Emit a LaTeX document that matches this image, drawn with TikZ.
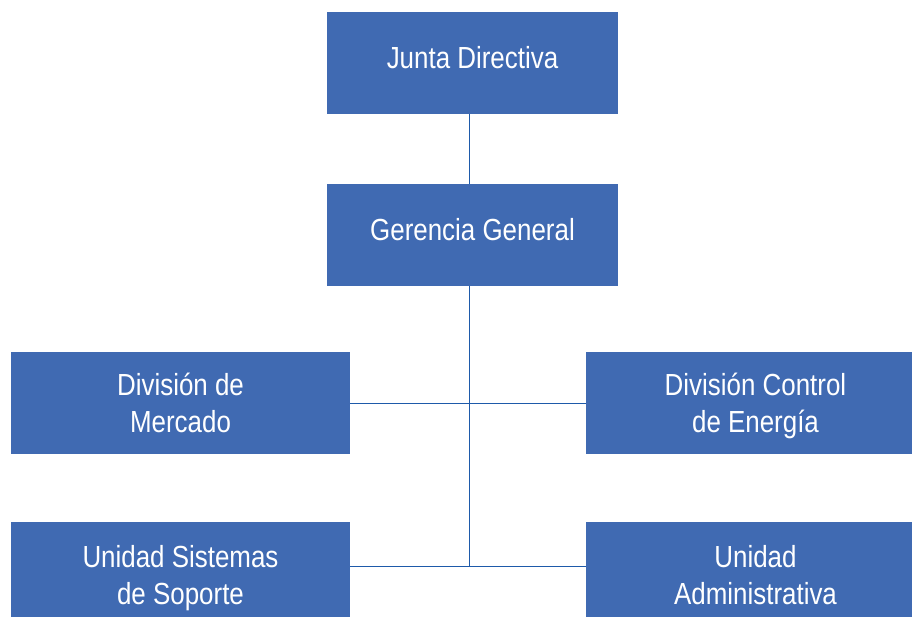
\documentclass[tikz,border=0pt]{standalone}
\usepackage{fontspec}
\setmainfont{Liberation Sans}[FakeStretch=0.85]
\usetikzlibrary{positioning}
\definecolor{boxblue}{RGB}{64,106,178}
\definecolor{lineblue}{RGB}{30,90,170}
\begin{document}
\begin{tikzpicture}[x=1pt, y=-1pt, line join=round,
  unit/.style={fill=boxblue, text=white, inner sep=0pt, align=center,
    minimum width=339pt, minimum height=102pt, text depth=-4pt,
    font=\fontsize{30.5}{37}\selectfont},
  topunit/.style={unit, minimum width=291pt, text height=22pt, text depth=12pt},
  lowunit/.style={unit, minimum height=112pt, text depth=6pt},
  link/.style={draw=lineblue, line width=1pt}]
\useasboundingbox (0,0) rectangle (912,616);
\clip (0,0) rectangle (912,616);
\def\xtrunk{469}
\node[topunit] (junta) at (472.5,63) {Junta Directiva};
\node[topunit] (gerencia) at (472.5,235) {Gerencia General};
\node[unit] (mercado) at (180.5,403) {División de\\Mercado};
\node[unit] (energia) at (755.5,403) {División Control\\de Energía};
\node[lowunit] (soporte) at (180.5,578) {Unidad Sistemas\\de Soporte};
\node[lowunit] (admin) at (755.5,578) {Unidad\\Administrativa};
\coordinate (trunkend) at (\xtrunk,566);
\draw[link] (\xtrunk,0 |- junta.south) -- (\xtrunk,0 |- gerencia.north);
\draw[link] (\xtrunk,0 |- gerencia.south) -- (trunkend);
\draw[link] (mercado.east) -- (energia.west);
\draw[link] (soporte.east |- trunkend) -- (admin.west |- trunkend);
\end{tikzpicture}
\end{document}
